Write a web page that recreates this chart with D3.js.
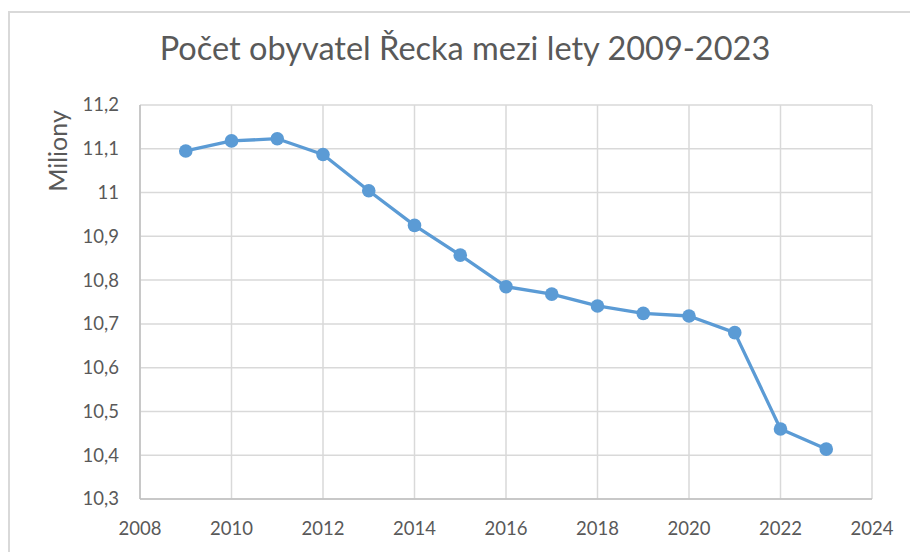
<!DOCTYPE html>
<html><head><meta charset="utf-8">
<script src="https://cdn.jsdelivr.net/npm/d3@7"></script>
<style>body{margin:0;background:#fff}svg{display:block}</style>
</head><body>
<script>
const years = [2009,2010,2011,2012,2013,2014,2015,2016,2017,2018,2019,2020,2021,2022,2023];
const population = [11.095,11.118,11.123,11.087,11.004,10.925,10.857,10.785,10.768,10.741,10.724,10.718,10.680,10.460,10.414];
const xTicks = [2008,2010,2012,2014,2016,2018,2020,2022,2024];
const yTicks = [10.3,10.4,10.5,10.6,10.7,10.8,10.9,11.0,11.1,11.2];
const titleText = "Počet obyvatel Řecka mezi lety 2009-2023";
const yLabel = "Miliony";

const W = 910, H = 552;
const svg = d3.select("body").append("svg").attr("width", W).attr("height", H);
svg.append("rect").attr("width", W).attr("height", H).attr("fill", "#fff");
// outer chart border
svg.append("path").attr("d", "M9,560 V12 H920").attr("fill","none").attr("stroke","#d9d9d9").attr("stroke-width",2);

const x = d3.scaleLinear().domain([2008, 2024]).range([140, 872]);
const y = d3.scaleLinear().domain([10.3, 11.2]).range([499, 105]);
const font = "Lato, 'Open Sans', sans-serif";

// gridlines
const g = svg.append("g");
g.selectAll(".hg").data(yTicks).join("line")
  .attr("x1", x(2008)).attr("x2", x(2024)).attr("y1", d=>y(d)).attr("y2", d=>y(d))
  .attr("stroke", "#d9d9d9").attr("stroke-width", 1.5);
g.selectAll(".vg").data(xTicks).join("line")
  .attr("y1", y(10.3)).attr("y2", y(11.2)).attr("x1", d=>x(d)).attr("x2", d=>x(d))
  .attr("stroke", "#d9d9d9").attr("stroke-width", 1.5);
// axis lines
svg.append("line").attr("x1", x(2008)).attr("x2", x(2024)).attr("y1", y(10.3)).attr("y2", y(10.3)).attr("stroke","#bfbfbf").attr("stroke-width",1.5);
svg.append("line").attr("x1", x(2008)).attr("x2", x(2008)).attr("y1", y(10.3)).attr("y2", y(11.2)).attr("stroke","#bfbfbf").attr("stroke-width",1.5);

const fmt = d => d3.format(".1~f")(d).replace(".", ",");
svg.selectAll(".yl").data(yTicks).join("text")
  .attr("x", 119).attr("y", d=>y(d)).attr("dy","0.35em").attr("text-anchor","end")
  .attr("font-family", font).attr("font-size", 18.5).attr("fill","#595959").text(fmt);
svg.selectAll(".xl").data(xTicks).join("text")
  .attr("x", d=>x(d)).attr("y", 535).attr("text-anchor","middle")
  .attr("font-family", font).attr("font-size", 18.5).attr("fill","#595959").text(d=>d);

svg.append("text").attr("transform","translate(67,151) rotate(-90)").attr("text-anchor","middle")
  .attr("font-family", font).attr("font-size", 25).attr("fill","#595959").text(yLabel);

svg.append("text").attr("x", 465).attr("y", 60).attr("text-anchor","middle")
  .attr("font-family", font).attr("font-size", 32.5).attr("fill","#595959").text(titleText);

const data = years.map((yr,i)=>({yr, v: population[i]}));
svg.append("path").datum(data)
  .attr("d", d3.line().x(d=>x(d.yr)).y(d=>y(d.v)))
  .attr("fill","none").attr("stroke","#5b9bd5").attr("stroke-width",3.3).attr("stroke-linejoin","round");
svg.selectAll(".pt").data(data).join("circle")
  .attr("cx", d=>x(d.yr)).attr("cy", d=>y(d.v)).attr("r", 6.8).attr("fill","#5b9bd5");
</script>
</body></html>
